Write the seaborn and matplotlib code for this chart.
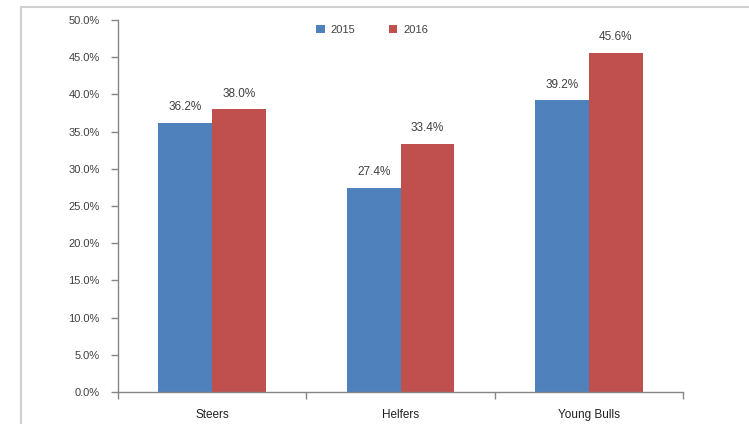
import matplotlib
matplotlib.use("Agg")
import matplotlib.pyplot as plt
from matplotlib.patches import Rectangle
from matplotlib.ticker import FixedLocator, FuncFormatter
import pandas as pd
import seaborn as sns

# data
categories = ["Steers", "Helfers", "Young Bulls"]
years = ["2015", "2016"]
values_2015 = [36.2, 27.4, 39.2]
values_2016 = [38.0, 33.4, 45.6]
y_ticks = [0, 5, 10, 15, 20, 25, 30, 35, 40, 45, 50]

colors = ["#4F81BD", "#C0504D"]
axis_gray = "#868686"
text_gray = "#404040"

df = pd.DataFrame({
    "category": categories * 2,
    "year": [years[0]] * 3 + [years[1]] * 3,
    "value": values_2015 + values_2016,
})

sns.set_style("white")
plt.rcParams["font.family"] = ["Liberation Sans", "DejaVu Sans"]

fig = plt.figure(figsize=(7.49, 4.24), dpi=100)
ax = fig.add_axes([118 / 749, 1 - 392 / 424, (683 - 118) / 749, (392 - 20) / 424])

sns.barplot(data=df, x="category", y="value", hue="year", order=categories,
            hue_order=years, palette=colors, width=0.57, gap=0,
            saturation=1, errorbar=None, linewidth=0, ax=ax)

# data labels
for cont in ax.containers:
    ax.bar_label(cont, fmt="%.1f%%", padding=7, fontsize=8.5, color=text_gray)

ax.set_ylim(0, 50)
ax.set_xlim(-0.5, 2.5)
ax.yaxis.set_major_locator(FixedLocator(y_ticks))
ax.yaxis.set_major_formatter(FuncFormatter(lambda v, p: f"{v:.1f}%"))
ax.tick_params(axis="y", length=5, width=1, color=axis_gray, labelsize=8,
               labelcolor=text_gray, pad=8, left=True)
ax.tick_params(axis="x", which="major", length=0, labelsize=8.5,
               labelcolor="#202020", pad=12)
ax.xaxis.set_minor_locator(FixedLocator([-0.5, 0.5, 1.5, 2.5]))
ax.tick_params(axis="x", which="minor", length=5, width=1, color=axis_gray,
               bottom=True)
ax.set_xlabel("")
ax.set_ylabel("")

for s in ["top", "right"]:
    ax.spines[s].set_visible(False)
for s in ["left", "bottom"]:
    ax.spines[s].set_color(axis_gray)
    ax.spines[s].set_linewidth(1)

# legend at top
handles, labels = ax.get_legend_handles_labels()
ax.legend(handles, labels, loc="center", bbox_to_anchor=(372 / 749, 1 - 30 / 424),
          bbox_transform=fig.transFigure, ncol=2, frameon=False, fontsize=8,
          handlelength=0.8, handleheight=0.8, columnspacing=3.0, handletextpad=0.5,
          labelcolor=text_gray)

# chart frame
frame = Rectangle((21 / 749, -0.1), 1.2, 1 - 7 / 424 + 0.1, transform=fig.transFigure,
                  fill=False, edgecolor="#d0d0d0", linewidth=1.5, clip_on=False)
fig.add_artist(frame)

fig.savefig("out.png", dpi=100, facecolor="white")
